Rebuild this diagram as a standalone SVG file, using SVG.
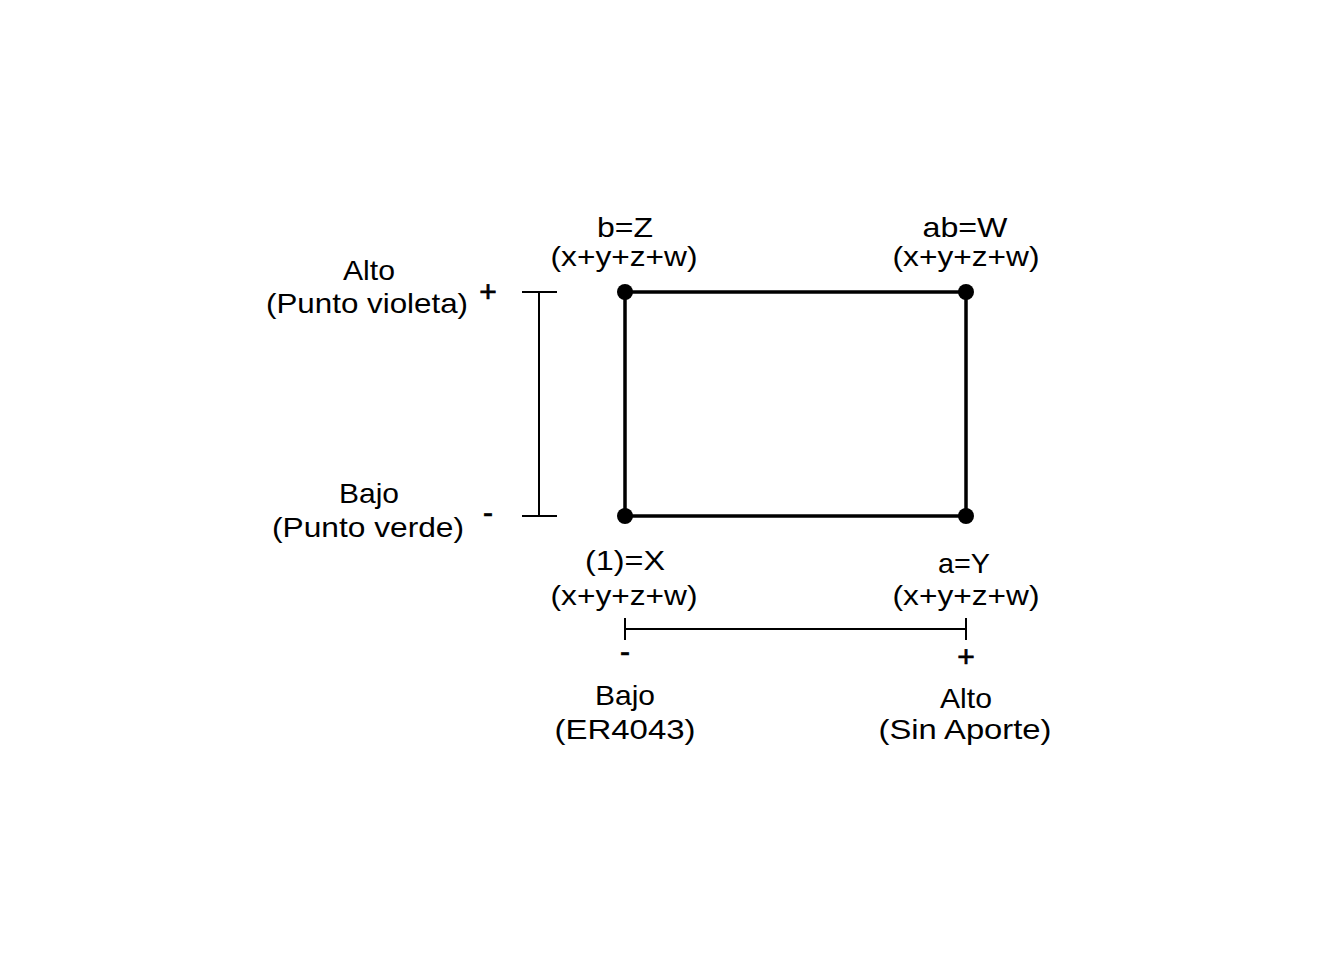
<svg xmlns="http://www.w3.org/2000/svg" width="1344" height="960" viewBox="0 0 1344 960">
<style>
text{font-family:"Liberation Sans",Arial,sans-serif;font-size:28.5px;fill:#000;text-anchor:middle}
.sign{font-size:30px;stroke:#000;stroke-width:0.7}
.thin{stroke:#000;stroke-width:2;fill:none}
.thick{stroke:#000;stroke-width:3.5;fill:none}
.dot{fill:#000}
</style>
<rect width="1344" height="960" fill="#fff"/>
<g id="connectors">
<rect class="thick" x="625" y="292" width="341" height="224"/>
<line class="thin" x1="539" y1="292" x2="539" y2="516"/>
<line class="thin" x1="522" y1="292" x2="557" y2="292"/>
<line class="thin" x1="522" y1="516" x2="557" y2="516"/>
<line class="thin" x1="625" y1="629" x2="966" y2="629"/>
<line class="thin" x1="625" y1="618" x2="625" y2="640"/>
<line class="thin" x1="966" y1="618" x2="966" y2="640"/>
</g>
<g id="node-Z">
<circle class="dot" cx="625" cy="292" r="8"/>
<text x="625" y="237" textLength="56" lengthAdjust="spacingAndGlyphs">b=Z</text>
<text x="624" y="266" textLength="147" lengthAdjust="spacingAndGlyphs">(x+y+z+w)</text>
</g>
<g id="node-W">
<circle class="dot" cx="966" cy="292" r="8"/>
<text x="965" y="237" textLength="85" lengthAdjust="spacingAndGlyphs">ab=W</text>
<text x="966" y="266" textLength="147" lengthAdjust="spacingAndGlyphs">(x+y+z+w)</text>
</g>
<g id="node-X">
<circle class="dot" cx="625" cy="516" r="8"/>
<text x="625" y="570" textLength="80" lengthAdjust="spacingAndGlyphs">(1)=X</text>
<text x="624" y="605" textLength="147" lengthAdjust="spacingAndGlyphs">(x+y+z+w)</text>
</g>
<g id="node-Y">
<circle class="dot" cx="966" cy="516" r="8"/>
<text x="964" y="573" textLength="52" lengthAdjust="spacingAndGlyphs">a=Y</text>
<text x="966" y="605" textLength="147" lengthAdjust="spacingAndGlyphs">(x+y+z+w)</text>
</g>
<g id="label-alto-left">
<text x="369" y="280" textLength="52" lengthAdjust="spacingAndGlyphs">Alto</text>
<text x="367" y="313" textLength="202" lengthAdjust="spacingAndGlyphs">(Punto violeta)</text>
<text class="sign" x="488" y="302">+</text>
</g>
<g id="label-bajo-left">
<text x="369" y="503" textLength="60" lengthAdjust="spacingAndGlyphs">Bajo</text>
<text x="368" y="537" textLength="192" lengthAdjust="spacingAndGlyphs">(Punto verde)</text>
<text class="sign" x="488" y="523">-</text>
</g>
<g id="label-bajo-bottom">
<text class="sign" x="625" y="662">-</text>
<text x="625" y="705" textLength="60" lengthAdjust="spacingAndGlyphs">Bajo</text>
<text x="625" y="739" textLength="141" lengthAdjust="spacingAndGlyphs">(ER4043)</text>
</g>
<g id="label-alto-bottom">
<text class="sign" x="966" y="667">+</text>
<text x="966" y="708" textLength="52" lengthAdjust="spacingAndGlyphs">Alto</text>
<text x="965" y="739" textLength="173" lengthAdjust="spacingAndGlyphs">(Sin Aporte)</text>
</g>
</svg>
